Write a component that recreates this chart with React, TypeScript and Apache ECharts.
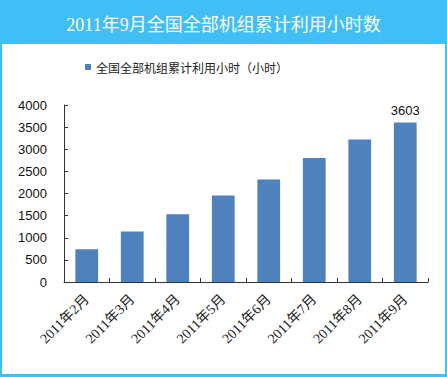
import React, { useEffect, useRef } from "react";
import * as echarts from "echarts";

const categories = ["2011年2月", "2011年3月", "2011年4月", "2011年5月", "2011年6月", "2011年7月", "2011年8月", "2011年9月"];
const hours = [740, 1139, 1532, 1954, 2317, 2800, 3222, 3603];
const seriesName = "全国全部机组累计利用小时（小时）";
const titleText = "2011年9月全国全部机组累计利用小时数";

export default function App() {
  const ref = useRef<HTMLDivElement>(null);
  useEffect(() => {
    document.body.style.margin = "0";
    const chart = echarts.init(ref.current!, null, { renderer: "svg" });
    const last = hours.length - 1;
    chart.setOption({
      animation: false,
      backgroundColor: "transparent",
      title: {
        text: titleText,
        left: "center",
        top: 11,
        textStyle: {
          color: "#ffffff",
          fontSize: 18,
          fontWeight: "normal",
          fontFamily: "'Liberation Serif', 'Noto Sans CJK SC', serif",
        },
      },
      legend: {
        left: 80,
        top: 56,
        icon: "rect",
        itemWidth: 6,
        itemHeight: 6,
        textStyle: { fontSize: 12, color: "#222", fontFamily: "'Noto Sans CJK SC', sans-serif" },
        data: [seriesName],
      },
      grid: {
        left: 64,
        right: 19,
        top: 105,
        bottom: 95,
        containLabel: false,
        outerBoundsMode: "none",
      },
      xAxis: {
        type: "category",
        data: categories,
        axisLine: { show: true, lineStyle: { color: "#333", width: 1 } },
        axisTick: { show: true, inside: true, length: 4, lineStyle: { color: "#333" } },
        axisLabel: {
          rotate: 45,
          margin: 15,
          fontSize: 14,
          color: "#222",
          fontFamily: "'Liberation Serif', 'Noto Sans CJK SC', serif",
          interval: 0,
        },
        splitLine: { show: false },
      },
      yAxis: {
        type: "value",
        min: 0,
        max: 4000,
        interval: 500,
        axisLine: { show: true, lineStyle: { color: "#333", width: 1 } },
        axisTick: { show: true, inside: true, length: 4, lineStyle: { color: "#333" } },
        axisLabel: {
          margin: 17,
          fontSize: 13,
          color: "#111",
          fontFamily: "'Liberation Sans', Arial, sans-serif",
          formatter: (v: number) => String(v),
        },
        splitLine: { show: false },
      },
      series: [
        {
          name: seriesName,
          type: "bar",
          barCategoryGap: "50%",
          itemStyle: { color: "#4F81BD" },
          data: hours.map((v, i) =>
            i === last
              ? {
                  value: v,
                  label: {
                    show: true,
                    position: "top",
                    distance: 6,
                    fontSize: 13,
                    color: "#111",
                    fontFamily: "'Liberation Sans', Arial, sans-serif",
                  },
                }
              : v
          ),
        },
      ],
    });
    return () => chart.dispose();
  }, []);
  return (
    <div style={{ position: "fixed", left: 0, top: 0, width: 447, height: 377, background: "#41BEF5" }}>
      <div style={{ position: "absolute", left: 2, top: 44, width: 443, height: 330, background: "#ffffff" }} />
      <div ref={ref} style={{ position: "absolute", left: 0, top: 0, width: 447, height: 377 }} />
    </div>
  );
}
